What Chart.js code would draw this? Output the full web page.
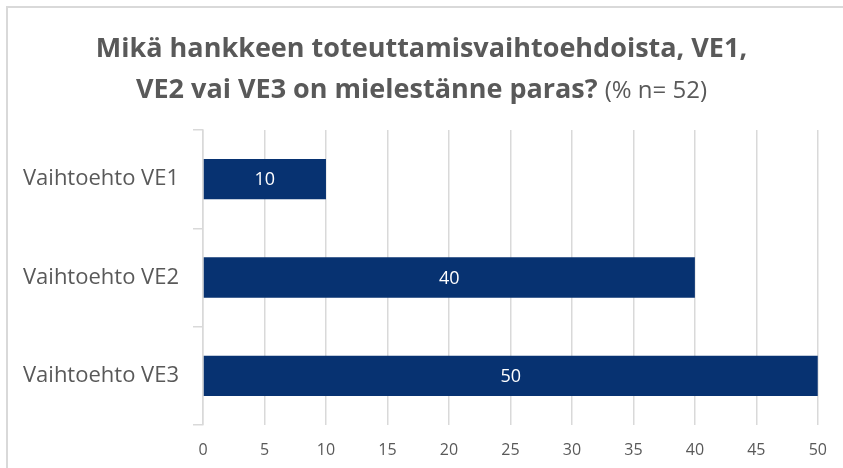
<!DOCTYPE html>
<html>
<head>
<meta charset="utf-8">
<script src="https://cdn.jsdelivr.net/npm/chart.js@4/dist/chart.umd.min.js"></script>
<style>
  html, body { margin: 0; padding: 0; background: #ffffff; }
  #wrap { position: relative; width: 843px; height: 468px; overflow: hidden; background: #fff; }
  #frame { position: absolute; left: 6px; top: 6px; width: 900px; height: 500px;
           border-left: 2px solid #d9d9d9; border-top: 2px solid #d9d9d9; }
  #title { position: absolute; left: 0; width: 843px; top: 26px; text-align: center;
           color: #595959; font-family: "Open Sans", sans-serif; }
  #title .l { font-weight: bold; font-size: 27px; line-height: 41px; white-space: nowrap; }
  #title .s { font-weight: normal; font-size: 24px; }
  canvas { position: absolute; left: 0; top: 0; }
</style>
</head>
<body>
<div id="wrap">
  <div id="frame"></div>
  <canvas id="c" width="843" height="468"></canvas>
  <div id="title">
    <div class="l">Mikä hankkeen toteuttamisvaihtoehdoista, VE1,</div>
    <div class="l">VE2 vai VE3 on mielestänne paras? <span class="s">(% n= 52)</span></div>
  </div>
</div>
<script>
const categories = ["Vaihtoehto VE1", "Vaihtoehto VE2", "Vaihtoehto VE3"];
const values = [10, 40, 50];
const xTicks = [0, 5, 10, 15, 20, 25, 30, 35, 40, 45, 50];

const valueLabels = {
  id: 'valueLabels',
  afterDatasetsDraw(chart) {
    const ctx = chart.ctx;
    const meta = chart.getDatasetMeta(0);
    ctx.save();
    ctx.fillStyle = '#ffffff';
    ctx.font = '18px "Open Sans", sans-serif';
    ctx.textAlign = 'center';
    ctx.textBaseline = 'middle';
    meta.data.forEach((bar, i) => {
      const p = bar.getProps(['x', 'y', 'base'], true);
      ctx.fillText(String(values[i]), (p.x + p.base) / 2, p.y + 1);
    });
    ctx.restore();
  }
};

new Chart(document.getElementById('c'), {
  type: 'bar',
  data: {
    labels: categories,
    datasets: [{
      data: values,
      backgroundColor: '#073271',
      borderWidth: 0,
      categoryPercentage: 1,
      barPercentage: 0.41
    }]
  },
  options: {
    indexAxis: 'y',
    responsive: false,
    animation: false,
    devicePixelRatio: 1,
    layout: { padding: { top: 130, right: 19, left: 0, bottom: 0 } },
    plugins: { legend: { display: false }, title: { display: false }, tooltip: { enabled: false } },
    scales: {
      x: {
        min: 0, max: 50,
        afterBuildTicks(scale) { scale.ticks = xTicks.map(v => ({ value: v })); },
        afterFit(scale) { scale.height = 43; },
        grid: { color: '#d9d9d9', lineWidth: 1.5, drawTicks: false },
        border: { display: false },
        ticks: { color: '#595959', padding: 16,
                 font: { family: '"Open Sans", sans-serif', size: 16 } }
      },
      y: {
        afterFit(scale) { scale.width = 203; },
        grid: { drawOnChartArea: false, drawTicks: true, tickLength: 10, color: '#d9d9d9', lineWidth: 1.5, offset: true },
        border: { display: true, color: '#d9d9d9', width: 1.5 },
        ticks: { color: '#595959', padding: 14,
                 font: { family: '"Open Sans", sans-serif', size: 22 } }
      }
    }
  },
  plugins: [valueLabels]
});
</script>
</body>
</html>
